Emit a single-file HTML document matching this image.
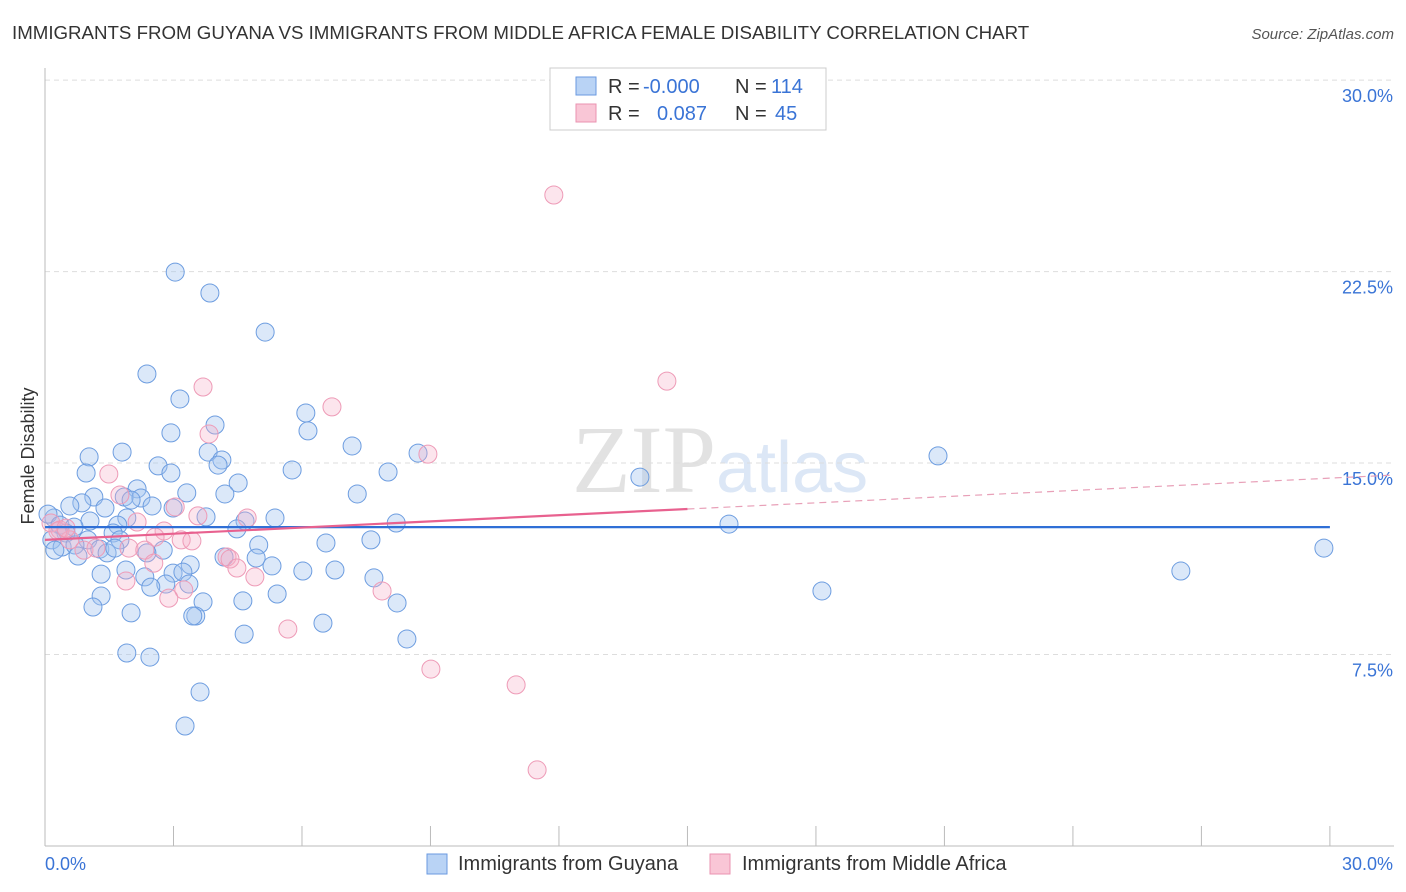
<!DOCTYPE html>
<html><head><meta charset="utf-8"><style>
body{margin:0;background:#fff;font-family:"Liberation Sans",sans-serif;}
svg{display:block}
</style></head><body>
<svg width="1406" height="892">
<text x="12" y="39" font-size="18.7" fill="#333">IMMIGRANTS FROM GUYANA VS IMMIGRANTS FROM MIDDLE AFRICA FEMALE DISABILITY CORRELATION CHART</text>
<text x="1394" y="39" font-size="15" fill="#555" text-anchor="end" font-style="italic">Source: ZipAtlas.com</text>
<text x="716" y="492" font-size="96" fill="#e2e2e2" text-anchor="end" font-family="Liberation Serif">ZIP</text>
<text x="716" y="492" font-size="72" fill="#dce7f6">atlas</text>
<g id="grid"></g>
<g id="axes"></g>
<g id="pts"></g>
<g id="trend"></g>
<text x="34" y="456" font-size="18" fill="#333" text-anchor="middle" transform="rotate(-90 34 456)">Female Disability</text>
<g>
<rect x="550" y="68" width="276" height="62" fill="#fff" stroke="#ccc"/>
<rect x="576" y="77" width="20" height="18" fill="#b9d3f5" stroke="#6a9ae0"/>
<rect x="576" y="104" width="20" height="18" fill="#f9c6d6" stroke="#ea93b0"/>
<text x="608" y="93" font-size="20" fill="#333">R = <tspan fill="#3a74d6" x="643">-0.000</tspan></text>
<text x="735" y="93" font-size="20" fill="#333">N = <tspan fill="#3a74d6" x="771">114</tspan></text>
<text x="608" y="120" font-size="20" fill="#333">R = <tspan fill="#3a74d6" x="657">0.087</tspan></text>
<text x="735" y="120" font-size="20" fill="#333">N = <tspan fill="#3a74d6" x="775">45</tspan></text>
</g>
<g>
<rect x="427" y="854" width="20" height="20" fill="#b9d3f5" stroke="#6a9ae0"/>
<text x="458" y="870" font-size="20" fill="#333">Immigrants from Guyana</text>
<rect x="710" y="854" width="20" height="20" fill="#f9c6d6" stroke="#ea93b0"/>
<text x="742" y="870" font-size="20" fill="#333">Immigrants from Middle Africa</text>
</g>
</svg>
<script>
const yTicks=[7.5,15,22.5,30];
const yTickLabels=["7.5%","15.0%","22.5%","30.0%"];
const blueX=[3.04,3.85,5.14,2.38,3.15,6.09,6.14,3.97,2.94,7.17,3.81,1.80,1.03,8.71,20.85,2.64,2.94,4.13,4.04,5.77,8.01,13.89,0.96,4.51,2.15,3.31,4.2,7.29,1.14,1.85,2.24,0.86,2.01,1.4,0.58,2.5,2.99,1.91,3.76,4.67,5.37,0.21,1.05,1.7,4.48,8.2,15.97,0.07,0.35,0.68,0.49,1.59,1.75,1.0,0.16,0.4,0.23,0.7,1.28,1.45,1.63,2.76,2.38,0.77,4.99,6.56,7.61,4.18,4.93,5.30,3.39,1.89,1.31,2.33,2.99,3.22,6.02,6.77,7.68,2.82,3.36,2.47,18.14,26.52,29.86,5.42,1.31,3.69,4.62,8.22,1.12,2.01,3.52,3.45,6.49,4.65,8.45,1.91,2.45,3.62,3.27];
const blueY=[22.48,21.66,20.13,18.49,17.51,16.96,16.26,16.49,16.18,15.67,15.43,15.43,15.24,15.39,15.28,14.89,14.61,15.12,14.92,14.73,14.65,14.45,14.61,14.22,13.99,13.83,13.79,13.79,13.67,13.67,13.63,13.44,13.55,13.24,13.32,13.32,13.24,12.85,12.89,12.73,12.85,12.85,12.73,12.57,12.42,12.65,12.61,13.0,12.57,12.49,12.26,12.26,11.99,11.99,11.99,11.71,11.59,11.79,11.63,11.48,11.67,11.59,11.48,11.36,11.79,11.87,11.99,11.32,11.28,10.97,11.01,10.81,10.65,10.54,10.69,10.73,10.77,10.81,10.5,10.26,10.26,10.14,9.99,10.77,11.67,9.87,9.79,9.56,9.6,9.52,9.36,9.13,9.01,9.01,8.73,8.3,8.11,7.56,7.4,6.03,4.7];
const pinkX=[11.88,14.52,3.69,6.7,3.83,8.94,1.49,1.75,3.04,3.57,4.72,2.15,2.78,2.57,3.18,3.43,4.25,4.32,0.14,0.35,0.58,0.91,1.19,1.96,2.33,2.54,4.48,4.9,1.89,3.24,2.89,7.87,5.67,9.01,11.0,11.49,0.3,0.49];
const pinkY=[25.5,18.21,17.98,17.2,16.14,15.35,14.57,13.75,13.28,12.93,12.85,12.69,12.34,12.1,11.99,11.95,11.32,11.24,12.65,12.38,11.99,11.59,11.67,11.67,11.59,11.08,10.89,10.54,10.38,10.03,9.71,9.99,8.5,6.93,6.31,2.98,12.34,12.45];
const blueTrend=[12.49,12.49];
const pinkTrend=[11.99,14.53];
const NS="http://www.w3.org/2000/svg";
const X=v=>45+v*42.83, Y=v=>846-v*25.53;
function mk(t,a,p){const e=document.createElementNS(NS,t);for(const k in a)e.setAttribute(k,a[k]);p.appendChild(e);return e;}
const grid=document.getElementById('grid'),axes=document.getElementById('axes');
yTicks.forEach((t,i)=>{
 const l=mk('line',{x1:45,x2:1394,y1:Y(t),y2:Y(t),stroke:'#ddd','stroke-dasharray':'5,4'},grid);
 
 
 const tx=mk('text',{x:1393,y:Y(t)+22,'font-size':18,fill:'#3a74d6','text-anchor':'end'},axes);
 tx.textContent=yTickLabels[i];
 
 
});
const yl=mk('line',{x1:45,x2:45,y1:68,y2:846,stroke:'#bbb'},axes);


const xl=mk('line',{x1:45,x2:1394,y1:846,y2:846,stroke:'#bbb'},axes);


for(let i=0;i<=10;i++){const tk=mk('line',{x1:X(i*3),x2:X(i*3),y1:826,y2:846,stroke:'#bbb'},axes);
 
 }
const x0=mk('text',{x:45,y:870,'font-size':18,fill:'#3a74d6'},axes);x0.textContent='0.0%';


const x1=mk('text',{x:1393,y:870,'font-size':18,fill:'#3a74d6','text-anchor':'end'},axes);x1.textContent='30.0%';


const pts=document.getElementById('pts');
blueX.forEach((v,i)=>{const c=mk('circle',{cx:X(v),cy:Y(blueY[i]),r:9,fill:'rgba(160,195,240,0.38)',stroke:'#6d9de0','stroke-width':1},pts);
 
 });
pinkX.forEach((v,i)=>{const c=mk('circle',{cx:X(v),cy:Y(pinkY[i]),r:9,fill:'rgba(246,175,200,0.32)',stroke:'#ee9bb7','stroke-width':1},pts);
 
 });
const tr=document.getElementById('trend');
const bt=mk('line',{x1:X(0),x2:X(30),y1:Y(blueTrend[0]),y2:Y(blueTrend[1]),stroke:'#2f6fd6','stroke-width':2.2},tr);


const pf=v=>pinkTrend[0]+(pinkTrend[1]-pinkTrend[0])*v/31.5;
const pt=mk('line',{x1:X(0),x2:X(15),y1:Y(pf(0)),y2:Y(pf(15)),stroke:'#e8618f','stroke-width':2.2},tr);


const pd=mk('line',{x1:X(15),x2:X(31.5),y1:Y(pf(15)),y2:Y(pf(31.5)),stroke:'#e8a0b8','stroke-width':1.2,'stroke-dasharray':'7,5'},tr);


</script>
</body></html>
